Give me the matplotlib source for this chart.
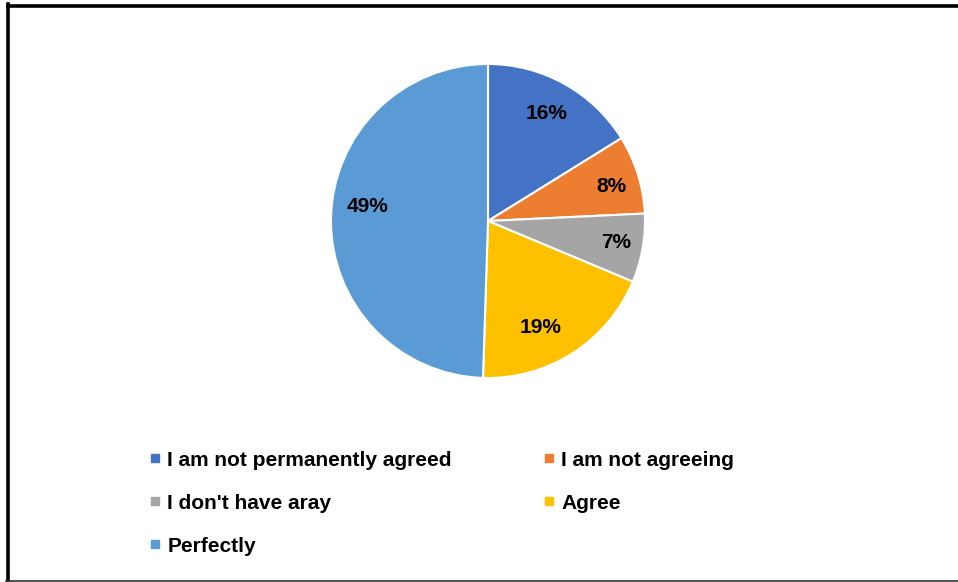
import numpy as np
import matplotlib
matplotlib.use("Agg")
import matplotlib.pyplot as plt
from matplotlib.lines import Line2D

categories = ["I am not permanently agreed", "I am not agreeing",
              "I don't have aray", "Agree", "Perfectly"]
shares = [16, 8, 7, 19, 49]
colors = ["#4472C4", "#ED7D31", "#A5A5A5", "#FFC000", "#5B9BD5"]

# best-fit placement of the percentage labels (radius fraction, angular nudge in degrees)
label_radius = [0.777, 0.815, 0.827, 0.758, 0.77]
label_nudge = [0.4, -1.5, 0.4, -6.4, -6.0]

FONT = ["Liberation Sans", "DejaVu Sans"]

W, H = 958, 582
fig = plt.figure(figsize=(W / 100, H / 100), dpi=100)

# pie axes: centre (488, 221) px, radius 157 px
cx, cy, r = 488, 221, 157
ax = fig.add_axes([(cx - r) / W, (H - cy - r) / H, 2 * r / W, 2 * r / H])
wedges, _, autotexts = ax.pie(
    shares, colors=colors, startangle=90, counterclock=False,
    autopct=lambda p: f"{p:.0f}%", pctdistance=0.77,
    wedgeprops=dict(edgecolor="white", linewidth=1.5),
    textprops=dict(fontsize=15, fontweight="bold", family=FONT, color="black"),
)
for w, t, v, rad, nudge in zip(wedges, autotexts, shares, label_radius, label_nudge):
    t.set_text(f"{v}%")
    mid = np.deg2rad((w.theta1 + w.theta2) / 2 + nudge)
    t.set_position((rad * np.cos(mid), rad * np.sin(mid)))
ax.set_xlim(-1, 1)
ax.set_ylim(-1, 1)
ax.set_aspect("equal")

# legend laid out row by row in two columns
order = [0, 2, 4, 1, 3]
handles = [Line2D([], [], marker="s", linestyle="none", markersize=5.8,
                  markerfacecolor=colors[i], markeredgecolor=colors[i]) for i in order]
labels = [categories[i] for i in order]
leg = fig.legend(handles, labels, ncol=2, loc="upper left",
                 bbox_to_anchor=(131 / W, 1 - 432 / H),
                 frameon=False, handlelength=0.5, handletextpad=0.35,
                 labelspacing=1.15, columnspacing=4.4,
                 prop=dict(size=15, weight="bold", family=FONT))

# frame lines: top and left thick, bottom thin
fig.add_artist(Line2D([7.5 / W, 1], [1 - 5.5 / H, 1 - 5.5 / H], color="black", linewidth=2.6,
                      transform=fig.transFigure))
fig.add_artist(Line2D([7.5 / W, 7.5 / W], [1 - 4 / H, 1 / H], color="black", linewidth=2.6,
                      transform=fig.transFigure))
fig.add_artist(Line2D([6 / W, 1], [1.3 / H, 1.3 / H], color="#333333", linewidth=1.2,
                      transform=fig.transFigure))

fig.savefig("out.png", dpi=100)
